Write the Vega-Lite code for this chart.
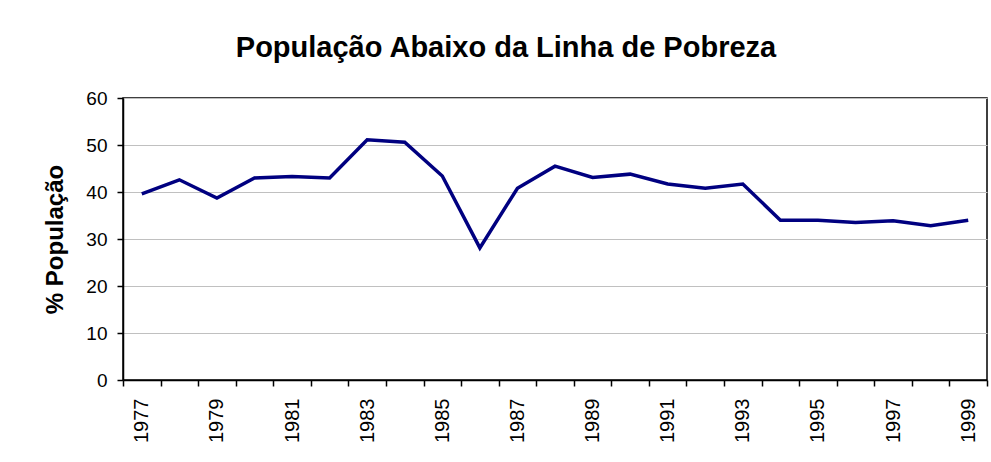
{
  "$schema": "https://vega.github.io/schema/vega-lite/v6.json",
  "width": 864,
  "height": 282,
  "autosize": {"type": "none"},
  "padding": {"left": 123, "top": 98, "right": 4, "bottom": 82},
  "background": "white",
  "title": {
    "text": "População Abaixo da Linha de Pobreza",
    "font": "Liberation Sans",
    "fontSize": 29,
    "fontWeight": "bold",
    "color": "#000000",
    "anchor": "middle",
    "dx": -49,
    "baseline": "alphabetic",
    "offset": 3
  },
  "data": {
    "values": [
      {"year": 1977, "pct": 39.6},
      {"year": 1978, "pct": 42.6},
      {"year": 1979, "pct": 38.7},
      {"year": 1980, "pct": 43.0},
      {"year": 1981, "pct": 43.3},
      {"year": 1982, "pct": 43.0},
      {"year": 1983, "pct": 51.1},
      {"year": 1984, "pct": 50.6},
      {"year": 1985, "pct": 43.4},
      {"year": 1986, "pct": 28.1},
      {"year": 1987, "pct": 40.8},
      {"year": 1988, "pct": 45.5},
      {"year": 1989, "pct": 43.1},
      {"year": 1990, "pct": 43.8},
      {"year": 1991, "pct": 41.7},
      {"year": 1992, "pct": 40.8},
      {"year": 1993, "pct": 41.7},
      {"year": 1994, "pct": 34.0},
      {"year": 1995, "pct": 34.0},
      {"year": 1996, "pct": 33.5},
      {"year": 1997, "pct": 33.9},
      {"year": 1998, "pct": 32.8},
      {"year": 1999, "pct": 34.0}
    ]
  },
  "mark": {"type": "line", "color": "#000080", "strokeWidth": 3.5, "strokeJoin": "miter"},
  "encoding": {
    "x": {
      "field": "year",
      "type": "ordinal",
      "bandPosition": 0.5,
      "scale": {"type": "band", "paddingInner": 0, "paddingOuter": 0},
      "axis": {
        "title": null,
        "labelAngle": -90,
        "labelAlign": "right",
        "labelBaseline": "middle",
        "labelFont": "Liberation Sans",
        "labelFontSize": 20,
        "labelColor": "#000000",
        "labelPadding": 12,
        "labelExpr": "datum.value % 2 == 1 ? datum.label : ''",
        "tickBand": "extent",
        "tickSize": 6,
        "tickColor": "#000000",
        "tickWidth": 1.5,
        "domainColor": "#000000",
        "domainWidth": 1.5,
        "grid": false
      }
    },
    "y": {
      "field": "pct",
      "type": "quantitative",
      "scale": {"domain": [0, 60]},
      "axis": {
        "title": "% População",
        "titleFont": "Liberation Sans",
        "titleFontSize": 24,
        "titleFontWeight": "bold",
        "titleColor": "#000000",
        "titlePadding": 18,
        "values": [0, 10, 20, 30, 40, 50, 60],
        "labelFont": "Liberation Sans",
        "labelFontSize": 19,
        "labelColor": "#000000",
        "labelPadding": 10,
        "tickSize": 6,
        "tickColor": "#000000",
        "tickWidth": 1.5,
        "domainColor": "#000000",
        "domainWidth": 1.5,
        "grid": true,
        "gridColor": "#c0c0c0",
        "gridWidth": 1
      }
    }
  },
  "config": {
    "view": {"stroke": "#000000", "strokeWidth": 1.5}
  }
}
